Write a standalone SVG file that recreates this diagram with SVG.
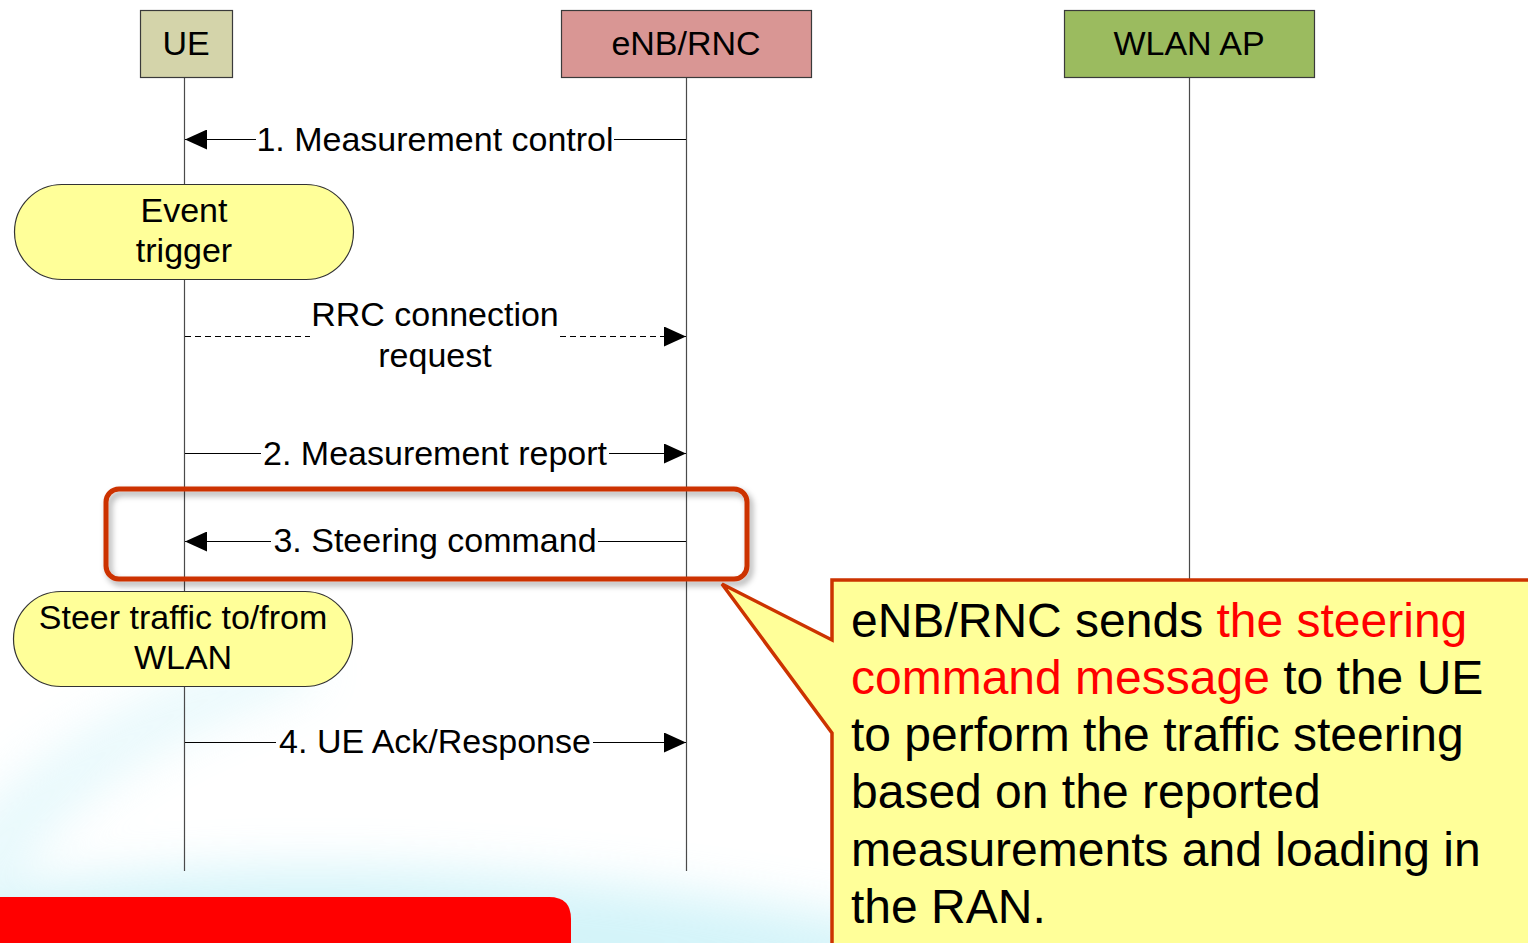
<svg xmlns="http://www.w3.org/2000/svg" width="1528" height="943" viewBox="0 0 1528 943">
  <defs>
    <style>
      .hdr { stroke: #3a3a3a; stroke-width: 1.2; }
      .hdrtxt { font-family: "Liberation Sans", Arial, sans-serif; font-size: 34px; fill: #000; text-anchor: middle; }
      .life { stroke: #4a4a4a; stroke-width: 1.2; fill: none; }
      .msg { stroke: #000; stroke-width: 1.2; fill: none; }
      .dash { stroke-dasharray: 6 4; }
      .lbl { font-family: "Liberation Sans", Arial, sans-serif; font-size: 34px; fill: #000; text-anchor: middle; }
      .pill { fill: #ffff99; stroke: #333; stroke-width: 1.2; }
      .note { font-family: "Liberation Sans", Arial, sans-serif; font-size: 48px; fill: #000; }
      .hot { fill: #ff0000; }
    </style>
    <marker id="arrow" viewBox="0 0 22 20" refX="22" refY="10" markerWidth="22" markerHeight="20" markerUnits="userSpaceOnUse" orient="auto">
      <path d="M0,0 L22,10 L0,20 Z" fill="#000"/>
    </marker>
    <filter id="shadow" x="-10%" y="-20%" width="125%" height="150%">
      <feDropShadow dx="3" dy="4" stdDeviation="3" flood-color="#000" flood-opacity="0.35"/>
    </filter>
    <filter id="haze" x="-50%" y="-50%" width="200%" height="200%">
      <feGaussianBlur stdDeviation="25"/>
    </filter>
  </defs>

  <!-- page background with light cyan swirl at the bottom -->
  <rect x="0" y="0" width="1528" height="943" fill="#ffffff"/>
  <g filter="url(#haze)" opacity="0.45">
    <path d="M-40,900 C150,860 500,850 900,930 L900,990 L-40,990 Z" fill="#9fe6f2"/>
    <path d="M-60,860 C20,760 120,700 300,640 L320,680 C150,740 60,800 0,900 Z" fill="#c8f1f8"/>
  </g>

  <!-- lifelines -->
  <g id="lifelines">
    <line class="life" x1="184.5" y1="77" x2="184.5" y2="871"/>
    <line class="life" x1="686.5" y1="77" x2="686.5" y2="871"/>
    <line class="life" x1="1189.5" y1="77" x2="1189.5" y2="580"/>
  </g>

  <!-- participants -->
  <g id="ue">
    <rect class="hdr" x="140.5" y="10.5" width="92" height="67" fill="#d4d4aa"/>
    <text class="hdrtxt" x="186" y="55">UE</text>
  </g>
  <g id="enb">
    <rect class="hdr" x="561.5" y="10.5" width="250" height="67" fill="#d99694"/>
    <text class="hdrtxt" x="686" y="55">eNB/RNC</text>
  </g>
  <g id="wlan">
    <rect class="hdr" x="1064.5" y="10.5" width="250" height="67" fill="#9bbb5f"/>
    <text class="hdrtxt" x="1189" y="55">WLAN AP</text>
  </g>

  <!-- local actions on the UE -->
  <g id="event-trigger">
    <rect class="pill" x="14.5" y="184.5" width="339" height="95" rx="47.5"/>
    <text class="lbl" x="184" y="222">Event</text>
    <text class="lbl" x="184" y="262">trigger</text>
  </g>
  <g id="steer-traffic">
    <rect class="pill" x="13.5" y="591.5" width="339" height="95" rx="47.5"/>
    <text class="lbl" x="183" y="629">Steer traffic to/from</text>
    <text class="lbl" x="183" y="669">WLAN</text>
  </g>

  <!-- messages -->
  <g id="connectors">
    <line class="msg" x1="686" y1="139.5" x2="614" y2="139.5"/>
    <line class="msg" x1="256" y1="139.5" x2="185" y2="139.5" marker-end="url(#arrow)"/>

    <line class="msg dash" x1="185" y1="336.5" x2="310" y2="336.5"/>
    <line class="msg dash" x1="560" y1="336.5" x2="686" y2="336.5" marker-end="url(#arrow)"/>

    <line class="msg" x1="185" y1="453.5" x2="261" y2="453.5"/>
    <line class="msg" x1="609" y1="453.5" x2="686" y2="453.5" marker-end="url(#arrow)"/>

    <line class="msg" x1="686" y1="541.5" x2="598" y2="541.5"/>
    <line class="msg" x1="271" y1="541.5" x2="185" y2="541.5" marker-end="url(#arrow)"/>

    <line class="msg" x1="185" y1="742.5" x2="276" y2="742.5"/>
    <line class="msg" x1="593" y1="742.5" x2="686" y2="742.5" marker-end="url(#arrow)"/>
  </g>
  <g id="labels">
    <text class="lbl" x="435" y="151">1. Measurement control</text>
    <text class="lbl" x="435" y="326">RRC connection</text>
    <text class="lbl" x="435" y="367">request</text>
    <text class="lbl" x="435" y="465">2. Measurement report</text>
    <text class="lbl" x="435" y="552">3. Steering command</text>
    <text class="lbl" x="435" y="753">4. UE Ack/Response</text>
  </g>

  <!-- highlight around step 3 -->
  <g id="highlight">
    <rect x="106" y="489" width="641" height="90" rx="13" fill="none" stroke="#cc3300" stroke-width="5" filter="url(#shadow)"/>
  </g>

  <!-- explanatory callout -->
  <g id="callout">
    <path d="M832,580 L1532,580 L1532,950 L832,950 L832,733 L722,584 L832,640 Z" fill="#ffff99" stroke="#cc3300" stroke-width="3.5" stroke-linejoin="miter"/>
    <text class="note" x="851" y="637">eNB/RNC sends <tspan class="hot">the steering</tspan></text>
    <text class="note" x="851" y="694"><tspan class="hot">command message</tspan> to the UE</text>
    <text class="note" x="851" y="751">to perform the traffic steering</text>
    <text class="note" x="851" y="808">based on the reported</text>
    <text class="note" x="851" y="866">measurements and loading in</text>
    <text class="note" x="851" y="923">the RAN.</text>
  </g>

  <!-- red footer band -->
  <path d="M0,897 L549,897 Q571,897 571,919 L571,943 L0,943 Z" fill="#ff0000"/>
</svg>
